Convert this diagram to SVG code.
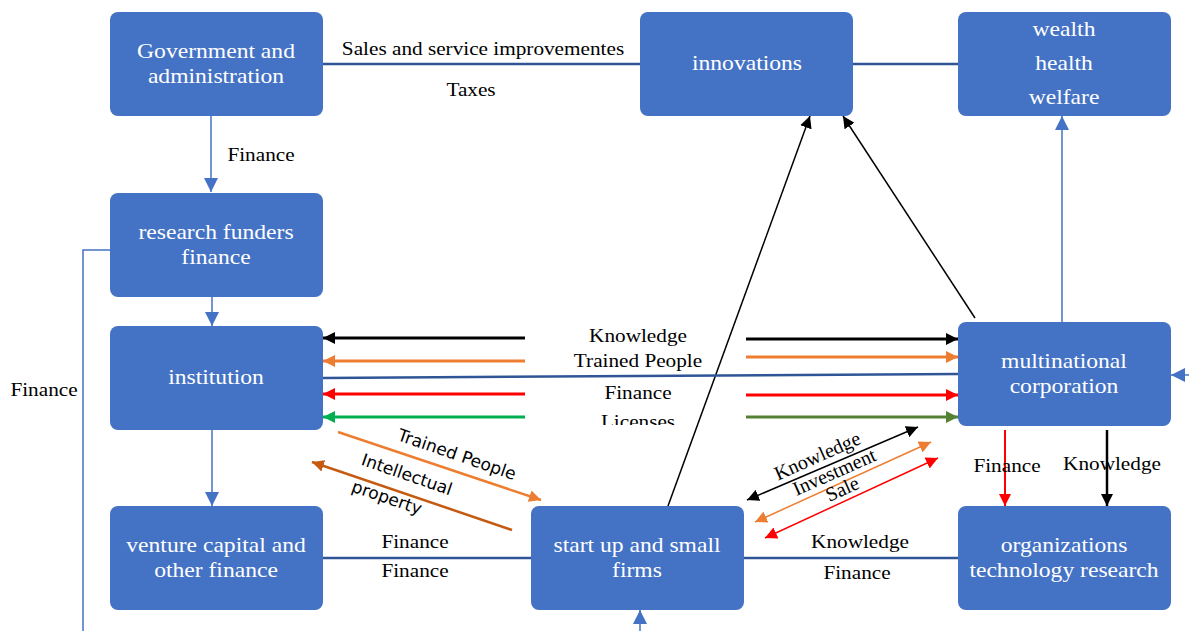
<svg xmlns="http://www.w3.org/2000/svg" width="1189" height="631" viewBox="0 0 1189 631">
<defs>
<style>
.node rect{fill:#4472C4;}
.node text{fill:#fff;font-family:"Liberation Serif","Times New Roman",serif;font-size:20px;text-anchor:middle;}
.lbl{fill:#000;font-family:"Liberation Serif","Times New Roman",serif;font-size:18px;text-anchor:middle;}
.slbl{fill:#000;font-family:"DejaVu Sans",sans-serif;font-size:17px;text-anchor:middle;}
.c{fill:none;}
.blue{stroke:#4472C4;stroke-width:1.5;}
.dblue{stroke:#2F5597;stroke-width:2.5;}
</style>
<marker id="mBlue" viewBox="0 0 10 10" refX="10" refY="5" markerWidth="14" markerHeight="14" markerUnits="userSpaceOnUse" orient="auto-start-reverse"><path d="M0,0L10,5L0,10z" fill="#4472C4"/></marker>
<marker id="mBlack" viewBox="0 0 10 10" refX="10" refY="5" markerWidth="12" markerHeight="12" markerUnits="userSpaceOnUse" orient="auto-start-reverse"><path d="M0,0L10,5L0,10z" fill="#000"/></marker>
<marker id="mOrange" viewBox="0 0 10 10" refX="10" refY="5" markerWidth="12" markerHeight="12" markerUnits="userSpaceOnUse" orient="auto-start-reverse"><path d="M0,0L10,5L0,10z" fill="#ED7D31"/></marker>
<marker id="mRed" viewBox="0 0 10 10" refX="10" refY="5" markerWidth="12" markerHeight="12" markerUnits="userSpaceOnUse" orient="auto-start-reverse"><path d="M0,0L10,5L0,10z" fill="#FF0000"/></marker>
<marker id="mGreen" viewBox="0 0 10 10" refX="10" refY="5" markerWidth="12" markerHeight="12" markerUnits="userSpaceOnUse" orient="auto-start-reverse"><path d="M0,0L10,5L0,10z" fill="#00B050"/></marker>
<marker id="mDGreen" viewBox="0 0 10 10" refX="10" refY="5" markerWidth="12" markerHeight="12" markerUnits="userSpaceOnUse" orient="auto-start-reverse"><path d="M0,0L10,5L0,10z" fill="#548235"/></marker>
<marker id="mBrown" viewBox="0 0 10 10" refX="10" refY="5" markerWidth="12" markerHeight="12" markerUnits="userSpaceOnUse" orient="auto-start-reverse"><path d="M0,0L10,5L0,10z" fill="#C55A11"/></marker>
<clipPath id="clipLic"><rect x="-100" y="-30" width="200" height="27"/></clipPath>
</defs>
<rect width="1189" height="631" fill="#fff"/>

<g id="connectors">
<line class="c dblue" x1="323" y1="64" x2="640" y2="64"/>
<line class="c dblue" x1="853" y1="64" x2="958" y2="64"/>
<line class="c blue" x1="211" y1="116" x2="211" y2="192" marker-end="url(#mBlue)"/>
<line class="c blue" x1="212" y1="297" x2="212" y2="326" marker-end="url(#mBlue)"/>
<polyline class="c blue" points="110,250 83,250 83,631"/>
<line class="c blue" x1="212" y1="430" x2="212" y2="506" marker-end="url(#mBlue)"/>
<line class="c blue" x1="640" y1="631" x2="640" y2="610" marker-end="url(#mBlue)"/>
<line class="c blue" x1="1189" y1="375" x2="1171" y2="375" marker-end="url(#mBlue)"/>
<line class="c blue" x1="1062" y1="322" x2="1062" y2="116" marker-end="url(#mBlue)"/>
<line class="c" stroke="#000" stroke-width="1.5" x1="975" y1="318" x2="843" y2="116" marker-end="url(#mBlack)"/>
<line class="c" stroke="#000" stroke-width="1.5" x1="668" y1="506" x2="810" y2="116" marker-end="url(#mBlack)"/>

<line class="c" stroke="#000" stroke-width="3" x1="525" y1="338" x2="323" y2="338" marker-end="url(#mBlack)"/>
<line class="c" stroke="#000" stroke-width="3" x1="746" y1="339" x2="958" y2="339" marker-end="url(#mBlack)"/>
<line class="c" stroke="#ED7D31" stroke-width="3" x1="525" y1="361" x2="323" y2="361" marker-end="url(#mOrange)"/>
<line class="c" stroke="#ED7D31" stroke-width="3" x1="746" y1="357" x2="958" y2="357" marker-end="url(#mOrange)"/>
<line class="c dblue" x1="323" y1="378" x2="958" y2="374"/>
<line class="c" stroke="#FF0000" stroke-width="3" x1="525" y1="394" x2="323" y2="394" marker-end="url(#mRed)"/>
<line class="c" stroke="#FF0000" stroke-width="3" x1="746" y1="395" x2="958" y2="395" marker-end="url(#mRed)"/>
<line class="c" stroke="#00B050" stroke-width="3" x1="525" y1="417" x2="323" y2="417" marker-end="url(#mGreen)"/>
<line class="c" stroke="#548235" stroke-width="3" x1="746" y1="417" x2="958" y2="417" marker-end="url(#mDGreen)"/>

<line class="c" stroke="#ED7D31" stroke-width="2.5" x1="338" y1="432" x2="541" y2="500" marker-end="url(#mOrange)"/>
<line class="c" stroke="#C55A11" stroke-width="2.5" x1="512" y1="530" x2="312" y2="462" marker-end="url(#mBrown)"/>

<line class="c" stroke="#000" stroke-width="1.5" x1="747" y1="500" x2="918" y2="427" marker-start="url(#mBlack)" marker-end="url(#mBlack)"/>
<line class="c" stroke="#ED7D31" stroke-width="1.5" x1="755" y1="522" x2="931" y2="442" marker-start="url(#mOrange)" marker-end="url(#mOrange)"/>
<line class="c" stroke="#FF0000" stroke-width="1.5" x1="765" y1="538" x2="938" y2="458" marker-start="url(#mRed)" marker-end="url(#mRed)"/>

<line class="c dblue" x1="323" y1="558" x2="531" y2="558"/>
<line class="c dblue" x1="744" y1="558" x2="958" y2="558"/>
<line class="c" stroke="#FF0000" stroke-width="2" x1="1005" y1="430" x2="1005" y2="506" marker-end="url(#mRed)"/>
<line class="c" stroke="#000" stroke-width="2.5" x1="1107" y1="430" x2="1107" y2="506" marker-end="url(#mBlack)"/>

<text class="lbl" transform="translate(483,55) scale(1.18,1)">Sales and service improvementes</text>
<text class="lbl" transform="translate(471,96) scale(1.18,1)">Taxes</text>
<text class="lbl" transform="translate(261,161) scale(1.18,1)">Finance</text>
<text class="lbl" transform="translate(44,396) scale(1.18,1)">Finance</text>
<text class="lbl" transform="translate(638,342) scale(1.18,1)">Knowledge</text>
<text class="lbl" transform="translate(638,367) scale(1.18,1)">Trained People</text>
<text class="lbl" transform="translate(638,399) scale(1.18,1)">Finance</text>
<text class="lbl" transform="translate(638,428) scale(1.18,1)" clip-path="url(#clipLic)">Licenses</text>
<text class="slbl" transform="translate(455,460) rotate(19)">Trained People</text>
<text class="slbl" transform="translate(405,480) rotate(19)">Intellectual</text>
<text class="slbl" transform="translate(385,503) rotate(19)">property</text>
<text class="lbl" style="font-size:20px" transform="translate(820,462) rotate(-24)">Knowledge</text>
<text class="lbl" style="font-size:20px" transform="translate(837,478) rotate(-24)">Investment</text>
<text class="lbl" style="font-size:20px" transform="translate(845,495) rotate(-24)">Sale</text>
<text class="lbl" transform="translate(415,548) scale(1.18,1)">Finance</text>
<text class="lbl" transform="translate(415,577) scale(1.18,1)">Finance</text>
<text class="lbl" transform="translate(860,548) scale(1.18,1)">Knowledge</text>
<text class="lbl" transform="translate(857,579) scale(1.18,1)">Finance</text>
<text class="lbl" transform="translate(1007,472) scale(1.18,1)">Finance</text>
<text class="lbl" transform="translate(1112,470) scale(1.18,1)">Knowledge</text>
</g>

<g id="gov" class="node"><rect x="110" y="12" width="213" height="104" rx="8"/><text transform="translate(216,58) scale(1.18,1)">Government and</text><text transform="translate(216,83) scale(1.18,1)">administration</text></g>
<g id="innovations" class="node"><rect x="640" y="12" width="213" height="104" rx="8"/><text transform="translate(747,70) scale(1.18,1)">innovations</text></g>
<g id="wealth" class="node"><rect x="958" y="12" width="213" height="104" rx="8"/><text transform="translate(1064,36) scale(1.18,1)">wealth</text><text transform="translate(1064,70) scale(1.18,1)">health</text><text transform="translate(1064,104) scale(1.18,1)">welfare</text></g>
<g id="funders" class="node"><rect x="110" y="193" width="213" height="104" rx="8"/><text transform="translate(216,239) scale(1.18,1)">research funders</text><text transform="translate(216,264) scale(1.18,1)">finance</text></g>
<g id="institution" class="node"><rect x="110" y="326" width="213" height="104" rx="8"/><text transform="translate(216,384) scale(1.18,1)">institution</text></g>
<g id="multinational" class="node"><rect x="958" y="322" width="213" height="104" rx="8"/><text transform="translate(1064,368) scale(1.18,1)">multinational</text><text transform="translate(1064,393) scale(1.18,1)">corporation</text></g>
<g id="venture" class="node"><rect x="110" y="506" width="213" height="104" rx="8"/><text transform="translate(216,552) scale(1.18,1)">venture capital and</text><text transform="translate(216,577) scale(1.18,1)">other finance</text></g>
<g id="startup" class="node"><rect x="531" y="506" width="213" height="104" rx="8"/><text transform="translate(637,552) scale(1.18,1)">start up and small</text><text transform="translate(637,577) scale(1.18,1)">firms</text></g>
<g id="orgs" class="node"><rect x="958" y="506" width="213" height="104" rx="8"/><text transform="translate(1064,552) scale(1.18,1)">organizations</text><text transform="translate(1064,577) scale(1.18,1)">technology research</text></g>
</svg>
